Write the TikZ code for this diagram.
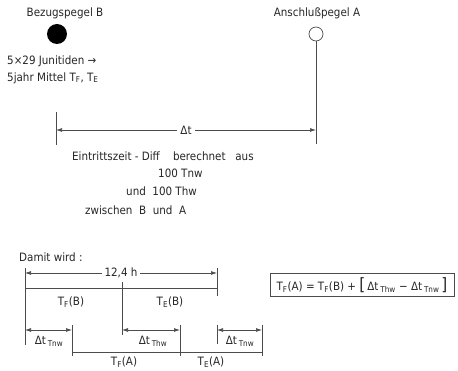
\documentclass[tikz,border=0pt]{standalone}
\usepackage{fontspec}
\setmainfont{DejaVu Sans Condensed}
\usetikzlibrary{arrows.meta}
\newcommand{\sub}[1]{\textsubscript{#1}}
\begin{document}
\begin{tikzpicture}[x=1pt,y=-1pt,
  lbl/.style={font=\fontsize{11.5}{13}\selectfont, text=black!85, inner sep=1pt},
  ln/.style={draw=black!70, line width=0.7pt},
  dim/.style={ln, {Latex[length=6pt,width=4pt]}-{Latex[length=6pt,width=4pt]}},
  gap/.style={lbl, fill=white, inner sep=3pt}]
\useasboundingbox (0,0) rectangle (458,371);
% top: gauges
\node[lbl] (labB) at (65,13) {Bezugspegel B};
\node[circle, fill=black, minimum size=20pt, inner sep=0pt] (B) at (57,34) {};
\node[lbl, anchor=west] (t1) at (6,61) {5×29 Junitiden →};
\node[lbl, anchor=west] (t2) at (6,78) {5jahr Mittel T\sub{F}, T\sub{E}};
\node[lbl] (labA) at (317,13) {Anschlußpegel A};
\node[circle, ln, minimum size=14pt, inner sep=0pt] (A) at (316,34) {};
\coordinate (Aend) at (316,144);
\draw[ln] (A.south) -- (Aend);
% delta t
\coordinate (dtL) at (56,130);
\coordinate (dtR) at (316,130);
\coordinate (tkLt) at (56,112);
\coordinate (tkLb) at (56,145);
\draw[ln] (tkLt) -- (tkLb);
\draw[dim] (dtL) -- node[gap] (dt) {Δt} (dtR);
\node[lbl, anchor=west] (e1) at (71,156) {Eintrittszeit - Diff \ \ \ berechnet \ \ aus};
\node[lbl, anchor=west] (e2) at (157,173) {100 Tnw};
\node[lbl, anchor=west] (e3) at (125,191) {und \ 100 Thw};
\node[lbl, anchor=west] (e4) at (84,210) {zwischen \ B \ und \ A};
% bottom
\node[lbl, anchor=west] (dam) at (18,257) {Damit wird :};
\coordinate (x0t) at (25,268); \coordinate (x0b) at (25,345);
\coordinate (x1t) at (122,282); \coordinate (x1b) at (122,335);
\coordinate (x2t) at (217,268); \coordinate (x2b) at (217,296);
\coordinate (x3t) at (72,325); \coordinate (x3b) at (72,356);
\coordinate (x4t) at (180,325); \coordinate (x4b) at (180,356);
\coordinate (x5t) at (217,325); \coordinate (x5b) at (217,344);
\coordinate (x6t) at (262,325); \coordinate (x6b) at (262,356);
\foreach \p in {0,...,6} {\draw[ln] (x\p t) -- (x\p b);}
\coordinate (hL) at (25,273); \coordinate (hR) at (217,273);
\draw[dim] (hL) -- node[gap] (h) {12,4 h} (hR);
\coordinate (bL) at (25,288); \coordinate (bR) at (217,288);
\draw[ln] (bL) -- (bR);
\node[lbl] (TFB) at (71,302) {T\sub{F}(B)};
\node[lbl] (TEB) at (170,302) {T\sub{E}(B)};
\coordinate (a1L) at (25,330); \coordinate (a1R) at (72,330);
\draw[dim] (a1L) -- (a1R);
\node[lbl] (d1) at (49,341) {Δt\,\sub{Tnw}};
\coordinate (a2L) at (122,330); \coordinate (a2R) at (180,330);
\draw[dim] (a2L) -- (a2R);
\node[lbl] (d2) at (153,341) {Δt\,\sub{Thw}};
\coordinate (a3L) at (217,330); \coordinate (a3R) at (262,330);
\draw[dim] (a3L) -- (a3R);
\node[lbl] (d3) at (240,341) {Δt\,\sub{Tnw}};
\coordinate (cL) at (72,352); \coordinate (cR) at (262,352);
\draw[ln] (cL) -- (cR);
\node[lbl] (TFA) at (124,362) {T\sub{F}(A)};
\node[lbl] (TEA) at (211,362) {T\sub{E}(A)};
% formula box
\node[lbl, ln, line width=0.8pt, minimum width=184pt, minimum height=23pt, inner sep=2pt] (box) at (362,285)
  {T\sub{F}(A) = T\sub{F}(B) + {\fontsize{17}{17}\selectfont[}\,Δt\,\sub{Thw} − Δt\,\sub{Tnw}\,{\fontsize{17}{17}\selectfont]}};
\end{tikzpicture}
\end{document}
